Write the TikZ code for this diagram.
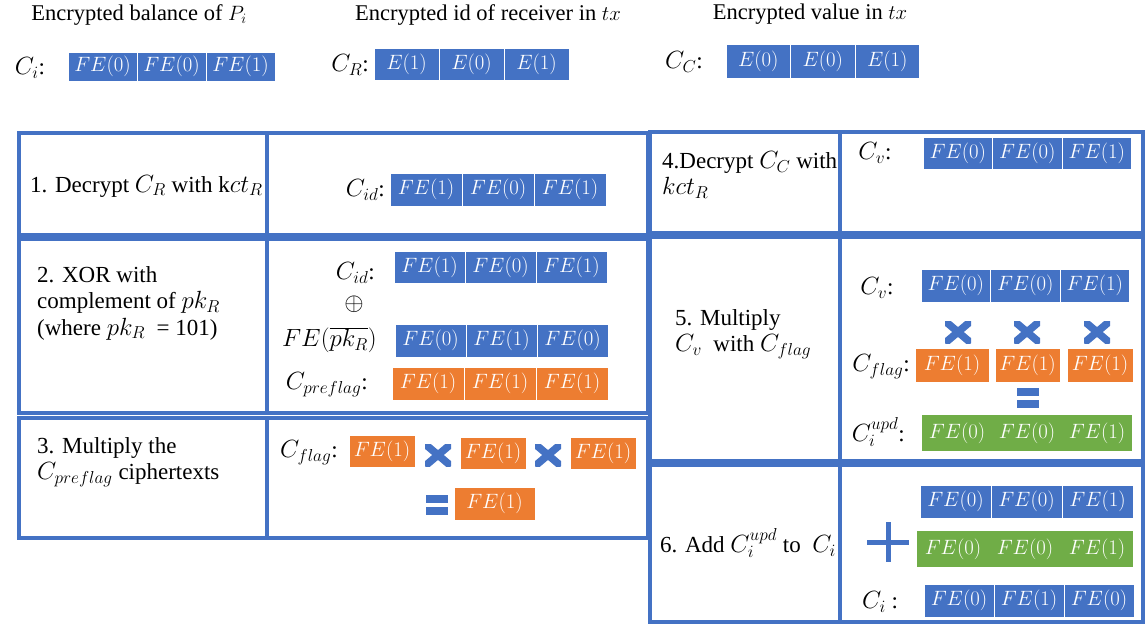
\documentclass[tikz,border=0pt]{standalone}
\usepackage{fontspec}
\setmainfont{Liberation Serif}
\definecolor{cblue}{HTML}{4472C4}
\definecolor{corange}{HTML}{ED7D31}
\definecolor{cgreen}{HTML}{70AD47}
\definecolor{gridblue}{HTML}{4472C4}
\tikzset{
 cellbase/.style={anchor=north west, inner sep=0pt, outer sep=0pt, text=white, font=\fontsize{22.5}{22.5}\selectfont},
 bluecell/.style={cellbase, fill=cblue, draw=white, line width=0.8pt},
 orangecell/.style={cellbase, fill=corange, draw=white, line width=0.8pt},
 greencell/.style={cellbase, fill=cgreen},
 gridcell/.style={anchor=north west, draw=gridblue, line width=3.5pt, inner sep=0pt, outer sep=0pt},
 steptext/.style={anchor=west, align=left, font=\fontsize{23}{26.5}\selectfont, inner sep=0pt},
 lbl/.style={font=\fontsize{23}{23}\selectfont, inner sep=0pt},
 titletext/.style={font=\fontsize{22.5}{24}\selectfont, inner sep=0pt},
 timesop/.style={minimum width=26pt, minimum height=22pt, inner sep=0pt, path picture={
   \draw[cblue, line width=7.5pt] (path picture bounding box.south west) -- (path picture bounding box.north east)
     (path picture bounding box.north west) -- (path picture bounding box.south east);}},
 eqop/.style={minimum width=22pt, minimum height=20pt, inner sep=0pt, path picture={
   \fill[cblue] (path picture bounding box.north west) rectangle ([yshift=-8pt]path picture bounding box.north east);
   \fill[cblue] (path picture bounding box.south west) rectangle ([yshift=8pt]path picture bounding box.south east);}},
 plusop/.style={minimum width=42pt, minimum height=40pt, inner sep=0pt, path picture={
   \draw[cblue, line width=5pt] (path picture bounding box.north) -- (path picture bounding box.south)
     (path picture bounding box.west) -- (path picture bounding box.east);}},
}
\newcommand\trio[9]{%
 \node[#6, minimum width=#4pt, minimum height=#5pt] (#1a) at (#2,#3) {$#7$};
 \node[#6, minimum width=#4pt, minimum height=#5pt] (#1b) at (#1a.north east) {$#8$};
 \node[#6, minimum width=#4pt, minimum height=#5pt] (#1c) at (#1b.north east) {$#9$};
}
\begin{document}
\begin{tikzpicture}[x=1pt,y=-1pt]
\useasboundingbox (0,0) rectangle (1146,627);
% titles
\node[titletext] (t1) at (139,15) {Encrypted balance of $P_i$};
\node[titletext] (t2) at (488,15) {Encrypted id of receiver in $tx$};
\node[titletext] (t3) at (810,14) {Encrypted value in $tx$};
% top rows
\node[lbl] (lci) at (30,68) {$C_i$:};
\trio{ci}{68}{52}{69}{29}{bluecell}{FE(0)}{FE(0)}{FE(1)}
\node[lbl] (lcr) at (350,65) {$C_R$:};
\trio{cr}{374}{48}{65}{32}{bluecell}{E(1)}{E(0)}{E(1)}
\node[lbl] (lcc) at (684,62) {$C_C$:};
\trio{cc}{726}{44}{64.5}{34}{bluecell}{E(0)}{E(0)}{E(1)}
% grid cells
\node[gridcell, minimum width=248pt, minimum height=102pt] (L1a) at (19,133) {};
\node[gridcell, minimum width=381pt, minimum height=102pt] (L1b) at (267,133) {};
\node[gridcell, minimum width=248pt, minimum height=174pt] (L2a) at (19,239) {};
\node[gridcell, minimum width=381pt, minimum height=174pt] (L2b) at (267,239) {};
\node[gridcell, minimum width=248pt, minimum height=120pt] (L3a) at (19,418) {};
\node[gridcell, minimum width=381pt, minimum height=120pt] (L3b) at (267,418) {};
\node[gridcell, minimum width=190pt, minimum height=101pt] (R4a) at (650,132) {};
\node[gridcell, minimum width=303pt, minimum height=101pt] (R4b) at (840,132) {};
\node[gridcell, minimum width=190pt, minimum height=224pt] (R5a) at (650,237) {};
\node[gridcell, minimum width=303pt, minimum height=224pt] (R5b) at (840,237) {};
\node[gridcell, minimum width=190pt, minimum height=157pt] (R6a) at (650,465) {};
\node[gridcell, minimum width=303pt, minimum height=157pt] (R6b) at (840,465) {};
% step 1
\node[steptext] (s1) at (30,186) {1. Decrypt $C_R$ with k$ct_R$};
\node[lbl, anchor=east] (lcid1) at (385,190) {$C_{id}$:};
\trio{id}{390}{173}{72}{33}{bluecell}{FE(1)}{FE(0)}{FE(1)}
% step 2
\node[steptext] (s2) at (37,303) {2. XOR with\\complement of $pk_R$\\(where $pk_R$~ = 101)};
\node[lbl, anchor=east] (lcid2) at (375,273) {$C_{id}$:};
\trio{idb}{394}{251}{71}{32}{bluecell}{FE(1)}{FE(0)}{FE(1)}
\node[lbl] (xor) at (354,304) {$\oplus$};
\node[lbl, anchor=east] (lpk) at (377,340) {$FE(\overline{pk_R})$};
\trio{pk}{395}{324}{71}{33}{bluecell}{FE(0)}{FE(1)}{FE(0)}
\node[lbl, anchor=east] (lpre) at (368,385) {$C_{preflag}$:};
\trio{pre}{392}{367}{72}{33}{orangecell}{FE(1)}{FE(1)}{FE(1)}
% step 3
\node[steptext] (s3) at (37,462) {3. Multiply the\\$C_{preflag}$ ciphertexts};
\node[lbl, anchor=west] (lflag3) at (280,453) {$C_{flag}$:};
\node[orangecell, minimum width=66pt, minimum height=32pt] (f1) at (349,435) {$FE(1)$};
\node[timesop] (m1) at (438,455) {};
\node[orangecell, minimum width=66pt, minimum height=32pt] (f2) at (460,437) {$FE(1)$};
\node[timesop] (m2) at (548,455) {};
\node[orangecell, minimum width=66pt, minimum height=32pt] (f3) at (570,437) {$FE(1)$};
\node[eqop] (eq3) at (437,505) {};
\node[orangecell, minimum width=81pt, minimum height=33pt] (fr) at (454,487) {$FE(1)$};
% step 4
\node[steptext] (s4) at (662,175) {4.Decrypt $C_C$ with\\ $kct_R$};
\node[lbl] (lcv4) at (875,153) {$C_v$:};
\trio{cv}{923}{137}{69.5}{32}{bluecell}{FE(0)}{FE(0)}{FE(1)}
% step 5
\node[steptext] (s5) at (675,334) {5. Multiply\\$C_v$~ with $C_{flag}$};
\node[lbl] (lcv5) at (877,288) {$C_v$:};
\trio{cvb}{921}{269}{69.5}{33}{bluecell}{FE(0)}{FE(0)}{FE(1)}
\node[timesop] (m3) at (958,332) {};
\node[timesop] (m4) at (1027,332) {};
\node[timesop] (m5) at (1097,332) {};
\node[lbl, anchor=east] (lflag5) at (910,367) {$C_{flag}$:};
\node[orangecell, minimum width=74pt, minimum height=34pt] (g1) at (915,348) {$FE(1)$};
\node[orangecell, minimum width=65pt, minimum height=34pt] (g2) at (995,348) {$FE(1)$};
\node[orangecell, minimum width=66pt, minimum height=34pt] (g3) at (1067,348) {$FE(1)$};
\node[eqop] (eq5) at (1028,398) {};
\node[lbl, anchor=east] (lupd) at (905,432) {$C_i^{upd}$:};
\trio{up}{922}{415}{70}{36}{greencell}{FE(0)}{FE(0)}{FE(1)}
% step 6
\node[steptext] (s6) at (660,543) {6. Add $C_i^{upd}$ to~ $C_i$};
\trio{va}{920}{485}{71}{33}{bluecell}{FE(0)}{FE(0)}{FE(1)}
\node[plusop] (pl) at (888,542) {};
\trio{vb}{917}{531}{72}{36}{greencell}{FE(0)}{FE(0)}{FE(1)}
\node[lbl] (lci6) at (880,602) {$C_i$ :};
\trio{vc}{924}{584}{70}{33}{bluecell}{FE(0)}{FE(1)}{FE(0)}
\end{tikzpicture}
\end{document}
